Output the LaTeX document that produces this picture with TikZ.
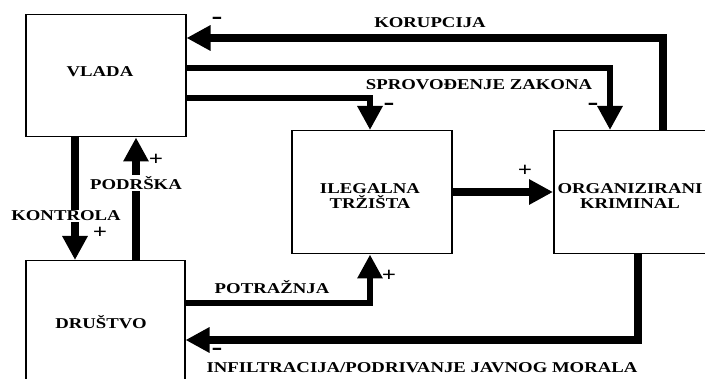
\documentclass[tikz,border=0pt]{standalone}
\usepackage{fontspec}
\setmainfont[FakeStretch=1.25]{Liberation Serif}
\usetikzlibrary{arrows.meta}
\tikzset{
  box/.style={draw, line width=1.5pt, inner sep=0pt},
  lab/.style={font=\fontsize{15}{17}\selectfont\bfseries, inner sep=1pt, align=center},
  wlab/.style={lab, fill=white, inner sep=1pt},
  sgn/.style={font=\fontsize{20}{20}\selectfont\bfseries, inner sep=0pt, text height=10pt, text depth=0pt},
  msgn/.style={font=\fontsize{26}{26}\selectfont\bfseries, inner sep=0pt, text height=8pt, text depth=0pt},
  thk/.style={line width=8pt},
  thn/.style={line width=6pt},
  tip/.style={-{Triangle[length=24pt,width=24pt]}}
}
\begin{document}
\begin{tikzpicture}[x=1pt,y=-1pt]
\useasboundingbox (0,0) rectangle (705,379);
\clip (0,0) rectangle (705,379);
% boxes
\node[box, minimum width=160pt, minimum height=122pt, anchor=north west] (vlada) at (25,14) {};
\node[box, minimum width=159pt, minimum height=130pt, anchor=north west] (drustvo) at (25,260) {};
\node[box, minimum width=160pt, minimum height=123pt, anchor=north west] (ileg) at (291,130) {};
\node[box, minimum width=170pt, minimum height=123pt, anchor=north west] (org) at (553,130) {};
\node[lab] (tv) at (100,72) {VLADA};
\node[lab] (td) at (101,322) {DRUŠTVO};
\node[lab] (ti) at (370,196) {ILEGALNA\\[-2pt]TRŽIŠTA};
\node[lab] (to) at (630,196) {ORGANIZIRANI\\[-2pt]KRIMINAL};
% coordinates
\coordinate (k1) at (663,38);
\coordinate (s1) at (610,68);
\coordinate (m1) at (370,98);
\coordinate (p1) at (370,303);
\coordinate (i1) at (638,340);
% connectors
\draw[thk, tip] (org.north -| k1) -- (k1) -- (vlada.east |- k1);
\draw[thn, tip] (vlada.east |- s1) -- (s1) -- (org.north -| s1);
\draw[thn, tip] (vlada.east |- m1) -- (m1) -- (ileg.north -| m1);
\draw[thk, tip] (vlada.south -| 75,0) -- (drustvo.north -| 75,0);
\draw[thk, tip] (drustvo.north -| 136,0) -- (vlada.south -| 136,0);
\draw[thn, tip] (drustvo.east |- p1) -- (p1) -- (ileg.south -| p1);
\draw[thk, tip] (ileg.east |- 0,192) -- (org.west |- 0,192);
\draw[thk, tip] (org.south -| i1) -- (i1) -- (drustvo.east |- i1);
% labels
\node[lab] (lk) at (430,23) {KORUPCIJA};
\node[lab] (ls) at (479,85) {SPROVOĐENJE ZAKONA};
\node[wlab] (lko) at (66,216) {KONTROLA};
\node[wlab] (lp) at (136,183) {PODRŠKA};
\node[lab] (lpo) at (272,287) {POTRAŽNJA};
\node[lab] (li) at (422,368) {INFILTRACIJA/PODRIVANJE JAVNOG MORALA};
% signs
\node[msgn] (m1s) at (217,21) {-};
\node[msgn] (m2s) at (593,107) {-};
\node[msgn] (m3s) at (389,107) {-};
\node[msgn] (m4s) at (217,352) {-};
\node[sgn] (p1s) at (100,234) {+};
\node[sgn] (p2s) at (156,161) {+};
\node[sgn] (p3s) at (389,277) {+};
\node[sgn] (p4s) at (525,172) {+};
\end{tikzpicture}
\end{document}
